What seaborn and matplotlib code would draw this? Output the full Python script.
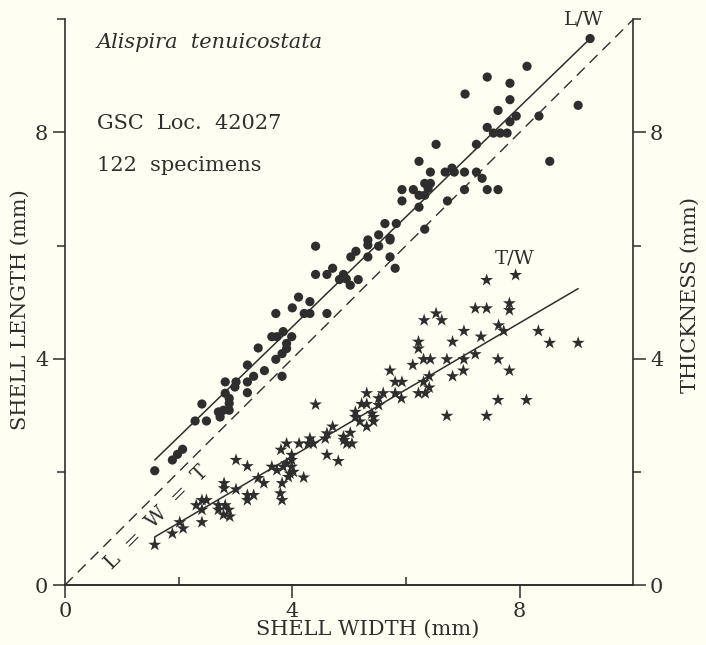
import matplotlib
matplotlib.use("Agg")
import matplotlib.pyplot as plt
import numpy as np
import pandas as pd
import seaborn as sns

# shell length vs width (circles)
width_l = [9.24, 8.13, 7.43, 7.83, 7.04, 7.83, 9.03, 7.62, 7.94, 8.34,
           7.83, 7.43, 7.54, 7.66, 7.78, 6.53, 7.24, 6.23, 8.53, 6.43,
           6.69, 6.81, 6.85, 7.03, 7.24, 7.34, 5.93, 6.13, 6.33, 6.43,
           6.39, 7.03, 7.43, 7.62, 5.93, 6.23, 6.33, 6.73, 6.23, 5.63,
           5.83, 6.33, 5.72, 5.52, 5.33, 5.33, 5.72, 4.41, 5.12, 5.52,
           5.03, 5.33, 5.72, 5.81, 4.41, 4.61, 4.71, 4.90, 4.83, 5.02,
           5.16, 4.95, 4.11, 4.31, 4.00, 3.71, 4.21, 4.31, 4.61, 3.64,
           3.73, 3.84, 3.99, 3.90, 3.90, 3.40, 3.82, 3.71, 3.21, 3.51,
           3.32, 3.21, 3.82, 2.82, 3.01, 2.99, 3.21, 2.82, 2.89, 2.89,
           2.79, 2.70, 2.73, 2.89, 2.41, 2.29, 2.49, 2.07, 1.98, 1.89,
           1.58]
length = [9.66, 9.17, 8.98, 8.87, 8.68, 8.58, 8.48, 8.39, 8.29, 8.29,
          8.19, 8.09, 7.99, 7.99, 7.99, 7.79, 7.79, 7.49, 7.49, 7.30,
          7.30, 7.37, 7.30, 7.30, 7.30, 7.19, 6.99, 6.99, 7.10, 7.10,
          7.01, 6.99, 6.99, 6.99, 6.79, 6.89, 6.89, 6.79, 6.68, 6.39,
          6.39, 6.29, 6.13, 6.19, 6.10, 6.01, 6.10, 5.99, 5.90, 5.99,
          5.80, 5.80, 5.80, 5.60, 5.49, 5.49, 5.60, 5.49, 5.40, 5.30,
          5.40, 5.41, 5.09, 5.01, 4.90, 4.80, 4.80, 4.80, 4.80, 4.39,
          4.39, 4.48, 4.39, 4.27, 4.18, 4.19, 4.09, 3.99, 3.89, 3.79,
          3.69, 3.59, 3.69, 3.59, 3.59, 3.50, 3.40, 3.39, 3.30, 3.21,
          3.09, 3.06, 2.97, 3.09, 3.20, 2.90, 2.90, 2.40, 2.31, 2.21,
          2.02]

# shell thickness vs width (stars)
width_t = [7.93, 7.42, 7.22, 7.42, 7.82, 7.82, 6.53, 6.32, 6.63, 7.63,
           7.72, 7.02, 8.33, 7.32, 6.82, 8.53, 9.03, 6.22, 6.22, 7.22,
           6.31, 6.43, 6.72, 7.02, 7.62, 6.12, 5.72, 7.82, 7.01, 6.41,
           6.82, 5.81, 5.93, 6.31, 6.41, 6.22, 6.34, 5.31, 5.60, 5.81,
           5.92, 5.52, 5.52, 5.22, 5.31, 7.62, 8.12, 5.11, 5.11, 5.19,
           5.31, 5.43, 5.43, 5.40, 6.72, 7.42, 5.02, 4.90, 4.41, 4.71,
           4.61, 4.58, 4.91, 4.96, 5.05, 4.31, 4.37, 4.28, 4.12, 3.90,
           3.80, 3.99, 3.99, 3.90, 3.84, 3.99, 3.96, 3.93, 4.02, 3.73,
           3.64, 3.82, 4.61, 4.81, 3.01, 3.21, 4.20, 3.40, 3.50, 2.80,
           2.80, 3.01, 3.79, 3.82, 3.21, 3.32, 3.21, 2.41, 2.49, 2.31,
           2.41, 2.70, 2.70, 2.82, 2.88, 2.90, 2.79, 2.41, 2.02, 2.08,
           1.89, 1.58]
thickness = [5.48, 5.39, 4.89, 4.89, 4.98, 4.86, 4.80, 4.68, 4.68, 4.59,
             4.49, 4.49, 4.49, 4.39, 4.30, 4.28, 4.28, 4.30, 4.18, 4.08,
             3.99, 3.99, 3.99, 3.99, 3.99, 3.89, 3.79, 3.79, 3.79, 3.69,
             3.69, 3.59, 3.59, 3.59, 3.49, 3.39, 3.39, 3.39, 3.39, 3.39,
             3.30, 3.30, 3.18, 3.20, 3.20, 3.27, 3.27, 3.06, 2.97, 2.89,
             2.80, 2.89, 2.97, 3.03, 2.99, 2.99, 2.69, 2.62, 3.19, 2.80,
             2.68, 2.59, 2.56, 2.50, 2.50, 2.59, 2.50, 2.50, 2.50, 2.50,
             2.39, 2.30, 2.21, 2.15, 2.09, 2.09, 1.97, 1.91, 2.00, 2.03,
             2.09, 1.80, 2.30, 2.19, 2.21, 2.10, 1.90, 1.89, 1.80, 1.80,
             1.71, 1.69, 1.62, 1.50, 1.59, 1.59, 1.50, 1.50, 1.50, 1.41,
             1.33, 1.41, 1.33, 1.41, 1.33, 1.21, 1.24, 1.11, 1.11, 1.00,
             0.91, 0.71]

# fitted lines
lw_line_x = [1.58, 9.24]
lw_line_y = [2.21, 9.66]
tw_line_x = [1.58, 1.58, 9.03]
tw_line_y = [0.72, 0.85, 5.24]
equal_x = [0, 10]
equal_y = [0, 10]

ticks_major = [0, 4, 8]
ticks_minor = [2, 6, 10]

bg = "#fefef3"
ink = "#2e2e2e"

sns.set_style("ticks")
plt.rcParams["font.family"] = ["DejaVu Serif"]
plt.rcParams["axes.edgecolor"] = ink
plt.rcParams["xtick.color"] = ink
plt.rcParams["ytick.color"] = ink
plt.rcParams["text.color"] = ink
plt.rcParams["axes.labelcolor"] = ink

fig = plt.figure(figsize=(7.06, 6.45), dpi=100, facecolor=bg)
ax = fig.add_axes([0.092, 0.093, 0.805, 0.877])
ax.set_facecolor(bg)
ax2 = ax.twinx()

df_l = pd.DataFrame({"width": width_l, "length": length})
df_t = pd.DataFrame({"width": width_t, "thickness": thickness})

sns.scatterplot(data=df_l, x="width", y="length", ax=ax, marker="o",
                s=44, color=ink, edgecolor="none", zorder=3)
sns.scatterplot(data=df_t, x="width", y="thickness", ax=ax2, marker="*",
                s=95, color=ink, edgecolor="none", zorder=3)

ax.plot(lw_line_x, lw_line_y, color=ink, lw=1.1)
ax2.plot(tw_line_x, tw_line_y, color=ink, lw=1.1)
ax.plot(equal_x, equal_y, color=ink, lw=1.0, linestyle=(0, (8, 5)))

for a in (ax, ax2):
    a.set_xlim(0, 10)
    a.set_ylim(0, 10)
    a.spines["top"].set_visible(False)
    a.spines["right"].set_visible(a is ax2)
    a.spines["left"].set_visible(a is ax)
    for sp in a.spines.values():
        sp.set_linewidth(1.2)

ax.set_xticks(ticks_major)
ax.set_xticks([2, 6], minor=True)
ax.set_yticks(ticks_major)
ax.set_yticks(ticks_minor, minor=True)
ax2.set_yticks(ticks_major)
ax2.set_yticks(ticks_minor, minor=True)

ax.tick_params(axis="x", which="major", direction="out", length=9, width=1.1,
               labelsize=15, pad=3)
ax.tick_params(axis="x", which="minor", direction="in", length=6, width=1.1)
ax.tick_params(axis="y", which="major", direction="out", length=9, width=1.1,
               labelsize=15, pad=3)
ax.tick_params(axis="y", which="minor", direction="out", length=6, width=1.1)
ax2.tick_params(axis="y", which="major", direction="out", length=9, width=1.1,
                labelsize=15, pad=3)
ax2.tick_params(axis="y", which="minor", direction="out", length=6, width=1.1)

ax.set_xlabel("SHELL WIDTH (mm)", fontsize=15, va="center", ha="center")
ax.xaxis.set_label_coords(0.533, -0.079)
ax.set_ylabel("SHELL LENGTH (mm)", fontsize=15, va="center", ha="center")
ax.yaxis.set_label_coords(-0.079, 0.486)
ax2.set_ylabel("THICKNESS (mm)", fontsize=15, va="center", ha="center",
               rotation=90)
ax2.yaxis.set_label_coords(1.100, 0.512)

ax.text(0.56, 9.59, "Alispira  tenuicostata", fontsize=15, style="italic",
        va="center", ha="left")
ax.text(0.56, 8.16, "GSC  Loc.  42027", fontsize=15, va="center", ha="left")
ax.text(0.56, 7.42, "122  specimens", fontsize=15, va="center", ha="left")
ax.text(9.12, 10.0, "L/W", fontsize=14, ha="center", va="center", clip_on=False)
ax.text(7.92, 5.78, "T/W", fontsize=14, ha="center", va="center")
ax.text(1.62, 1.20, "L  =  W  =  T", fontsize=15, ha="center", va="center",
        rotation=45, rotation_mode="anchor")

fig.savefig("out.png", dpi=100, facecolor=bg)
